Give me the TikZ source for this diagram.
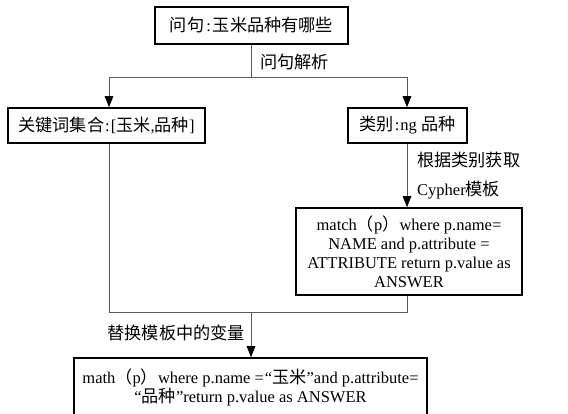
\documentclass[tikz,border=0pt]{standalone}
\usepackage{fontspec}
\setmainfont{Liberation Serif}
\newfontfamily\cjk[Scale=1.04]{Noto Sans CJK SC}
\usetikzlibrary{arrows.meta}
\begin{document}
\begin{tikzpicture}[x=1pt,y=-1pt,
  box/.style={draw=black,line width=1.6pt,inner sep=0pt,align=center,font=\fontsize{16.5}{19}\selectfont},
  conn/.style={draw=black!65,line width=0.9pt},
  arr/.style={conn,-{Triangle[length=11pt,width=8.5pt,color=black]}},
  lab/.style={inner sep=0pt,font=\fontsize{16.5}{19}\selectfont,align=left}]
\useasboundingbox (0,0) rectangle (568,414);
\node[box,minimum width=193pt,minimum height=37pt] (q) at (251.5,25.5) {{\cjk 问句}\kern2pt:\kern2pt{\cjk 玉米品种有哪些}};
\node[box,minimum width=197pt,minimum height=35pt] (kw) at (106.5,125.5) {{\cjk 关键词集合}\kern1pt:\kern1pt[{\cjk 玉米},{\cjk 品种}]};
\node[box,minimum width=119pt,minimum height=35pt] (cat) at (407.5,125.5) {{\cjk 类别}\kern1pt:\kern1pt ng {\cjk 品种}};
\node[box,minimum width=226pt,minimum height=87pt] (tpl) at (409,251.5) {match{\cjk （}p{\cjk ）}where p.name=\\NAME and p.attribute =\\ATTRIBUTE return p.value as\\ANSWER};
\node[box,minimum width=353pt,minimum height=58pt] (res) at (250.5,387) {math{\cjk （}p{\cjk ）}where p.name =\kern1pt“{\cjk 玉米}”and p.attribute=\\“{\cjk 品种}”return p.value as ANSWER};

\coordinate (j1) at (251,77);
\coordinate (jl) at (109,77);
\coordinate (jr) at (407,77);
\coordinate (jb) at (251,312);

\draw[conn] (q.south -| j1) -- (j1);
\draw[arr] (j1) -| (kw.north -| jl);
\draw[arr] (j1) -| (cat.north -| jr);
\draw[arr] (cat.south -| jr) -- (tpl.north -| jr);
\draw[conn] (kw.south -| jl) |- (jb);
\draw[conn] (tpl.south -| jr) |- (jb);
\draw[arr] (jb) -- (res.north -| jb);

\node[lab,anchor=west] (l1) at (260,62) {{\cjk 问句解析}};
\node[lab,anchor=west] (l2) at (417,160) {{\cjk 根据类别获取}};
\node[lab,anchor=west] (l3) at (417,190) {Cypher{\cjk 模板}};
\node[lab,anchor=east] (l4) at (245,333) {{\cjk 替换模板中的变量}};
\end{tikzpicture}
\end{document}
